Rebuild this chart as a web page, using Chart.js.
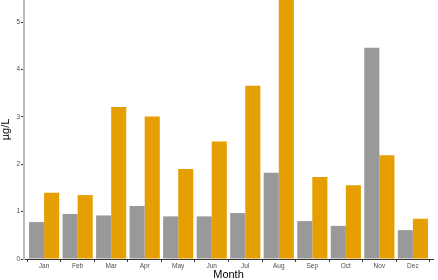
<!DOCTYPE html>
<html><head><meta charset="utf-8">
<script src="https://cdn.jsdelivr.net/npm/chart.js@4/dist/chart.umd.min.js"></script>
<style>html,body{margin:0;padding:0;background:#fff}#c{display:block}</style>
</head><body>
<canvas id="c" width="438" height="280"></canvas>
<script>
const months = ["Jan","Feb","Mar","Apr","May","Jun","Jul","Aug","Sep","Oct","Nov","Dec"];
const greySeries = [0.78,0.95,0.92,1.12,0.90,0.90,0.97,1.82,0.80,0.70,4.46,0.61];
const orangeSeries = [1.40,1.35,3.21,3.01,1.90,2.48,3.66,5.60,1.73,1.56,2.19,0.85];
const yTicks = [0,1,2,3,4,5];

const toXY = arr => arr.map((v,i)=>({x:i,y:v}));
new Chart(document.getElementById('c'), {
  type:'bar',
  data:{datasets:[
    {label:'A',data:toXY(greySeries),backgroundColor:'#999999',borderWidth:0,barPercentage:1,categoryPercentage:0.9},
    {label:'B',data:toXY(orangeSeries),backgroundColor:'#E69F00',borderWidth:0,barPercentage:1,categoryPercentage:0.9}
  ]},
  options:{
    responsive:false,animation:false,
    layout:{padding:{top:0,right:5,left:0,bottom:0}},
    plugins:{legend:{display:false},tooltip:{enabled:false}},
    scales:{
      x:{type:'linear',min:-0.6,max:11.6,offset:false,
        grid:{display:true,drawOnChartArea:false,drawTicks:true,tickLength:3,color:'#333'},
        border:{display:true,color:'#333',width:1},
        ticks:{stepSize:1,includeBounds:false,autoSkip:false,maxRotation:0,padding:0,color:'#4d4d4d',font:{family:'Liberation Sans',size:6.5},
          callback:v=>months[v]},
        title:{display:true,text:'Month',color:'#000',font:{family:'Liberation Sans',size:11,lineHeight:1},padding:{top:0,bottom:0}},
        afterFit:s=>{s.height=21;s.paddingLeft=0;s.paddingRight=0;}
      },
      y:{min:0,max:5.47,
        grid:{display:true,drawOnChartArea:false,drawTicks:true,tickLength:3,color:'#333'},
        border:{display:true,color:'#bdbdbd',width:2},
        afterBuildTicks:s=>{s.ticks=yTicks.map(v=>({value:v}));},
        ticks:{padding:1,color:'#4d4d4d',font:{family:'Liberation Sans',size:6.5}},
        title:{display:true,text:'µg/L',color:'#000',font:{family:'Liberation Sans',size:11,lineHeight:1},padding:{top:0,bottom:0}},
        afterFit:s=>{s.width=24;s.paddingTop=0;s.paddingBottom=0;}
      }
    }
  }
});
</script>
</body></html>
